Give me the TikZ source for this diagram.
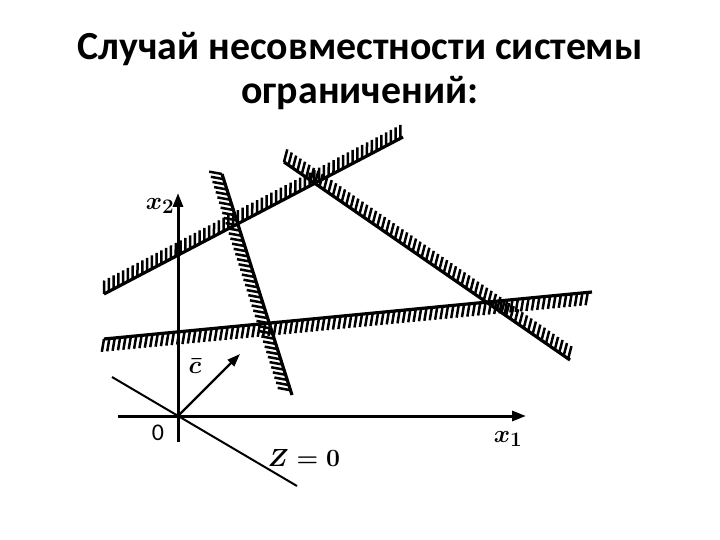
\documentclass[tikz,border=0pt]{standalone}
\usepackage{fontspec}
\setmainfont{Carlito}
\usetikzlibrary{decorations.markings,arrows.meta}
\tikzset{
  hatched/.style n args={2}{line width=3.2bp,
    postaction={decorate},
    decoration={markings,
      mark=between positions 0 and 1 step 5.4bp with {\draw[line width=2.5bp] (0,0) -- (#1:#2);}}},
  axisline/.style={line width=3bp,-{Triangle[length=14bp,width=10bp]}},
  lbl/.style={font=\fontsize{28}{32}\selectfont\boldmath, inner sep=1bp},
  title/.style={font=\fontsize{40}{48}\selectfont\bfseries, anchor=base}
}
\begin{document}
\begin{tikzpicture}[x=1bp,y=-1bp]
\useasboundingbox (0,0) rectangle (720,540);
% title
\node[title] (t1) at (360,60) {Случай несовместности системы};
\node[title] (t2) at (360,104) {ограничений:};
% key points
\coordinate (O) at (178,416);
\coordinate (ybot) at (178,442);
\coordinate (ytop) at (178,193);
\coordinate (xleft) at (118,416);
\coordinate (xright) at (526,416);
\coordinate (z1) at (112,377);
\coordinate (z2) at (297,486);
\coordinate (c) at (240,354);
% constraint lines
\coordinate (r1) at (104,294); \coordinate (r2) at (403,137);
\coordinate (s1) at (222,174); \coordinate (s2) at (292,395);
\coordinate (f1) at (284,162); \coordinate (f2) at (570,360);
\coordinate (h1) at (104,339); \coordinate (h2) at (592,292);
\draw[hatched={62}{13.5bp}] (r1) -- (r2);
\draw[hatched={-118}{13bp}] (s1) -- (s2);
\draw[hatched={110}{13bp}] (f1) -- (f2);
\draw[hatched={-105}{13bp}] (h1) -- (h2);
% axes
\draw[axisline] (ybot) -- (ytop);
\draw[axisline] (xleft) -- (xright);
\draw[line width=2bp] (z1) -- (z2);
\draw[line width=2.4bp,-{Triangle[length=13bp,width=9bp]}] (O) -- (c);
% labels
\node[lbl] (lx2) at (160,206) {$x_2$};
\node[lbl] (lx1) at (508,439) {$x_1$};
\node[lbl, font=\fontsize{24}{28}\selectfont] (l0) at (158,433) {0};
\node[lbl] (lc) at (195,366) {$\bar c$};
\node[lbl] (lz) at (304,458) {$Z=0$};
\end{tikzpicture}
\end{document}
